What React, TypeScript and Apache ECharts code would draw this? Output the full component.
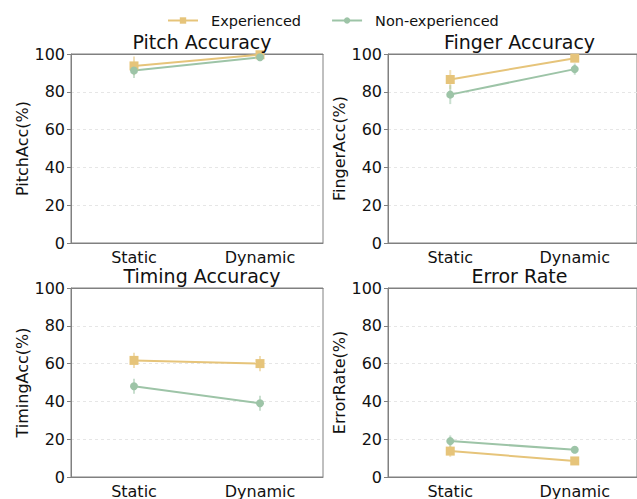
import React, { useEffect, useRef } from "react";
import * as echarts from "echarts";

const categories = ["Static", "Dynamic"];
const panelTitles = ["Pitch Accuracy", "Finger Accuracy", "Timing Accuracy", "Error Rate"];
const yNames = ["PitchAcc(%)", "FingerAcc(%)", "TimingAcc(%)", "ErrorRate(%)"];

const pitchExp = [93.7, 99.6];
const pitchExpErr = [5, 1];
const pitchNon = [91.3, 98.3];
const pitchNonErr = [4, 1];
const fingerExp = [86.5, 97.8];
const fingerExpErr = [5, 1];
const fingerNon = [78.5, 92.0];
const fingerNonErr = [5, 3];
const timingExp = [61.7, 60.0];
const timingExpErr = [4, 4];
const timingNon = [48.0, 39.0];
const timingNonErr = [4, 4];
const errorExp = [13.7, 8.5];
const errorExpErr = [3, 1];
const errorNon = [19.0, 14.4];
const errorNonErr = [3, 1];

const expValues = [pitchExp, fingerExp, timingExp, errorExp];
const expErrs = [pitchExpErr, fingerExpErr, timingExpErr, errorExpErr];
const nonValues = [pitchNon, fingerNon, timingNon, errorNon];
const nonErrs = [pitchNonErr, fingerNonErr, timingNonErr, errorNonErr];

const EXP = "#E6C47A";
const NON = "#9DC4A7";
const FONT = "DejaVu Sans";
const SPINE = "#808080";

const grids = [
  { left: 71, top: 54, width: 252, height: 189 },
  { left: 388, top: 54, width: 253, height: 189 },
  { left: 71, top: 288, width: 252, height: 191 },
  { left: 388, top: 288, width: 253, height: 191 },
];

export default function App() {
  const ref = useRef<HTMLDivElement>(null);
  useEffect(() => {
    document.body.style.margin = "0";
    const chart = echarts.init(ref.current!, null, { renderer: "svg" });
    const errSeries = (vals: number[], errs: number[], color: string, i: number, name: string) => ({
      type: "custom",
      name,
      xAxisIndex: i,
      yAxisIndex: i,
      silent: true,
      z: 1,
      data: vals.map((v, k) => [k, v - errs[k], v + errs[k]]),
      renderItem: (params: any, api: any) => {
        const p1 = api.coord([api.value(0), api.value(1)]);
        const p2 = api.coord([api.value(0), api.value(2)]);
        return {
          type: "line",
          shape: { x1: p1[0], y1: p1[1], x2: p2[0], y2: p2[1] },
          style: { stroke: color, lineWidth: 2, opacity: 0.55 },
        };
      },
    });
    const series: any[] = [];
    for (let i = 0; i < 4; i++) {
      series.push({
        type: "line",
        name: "Experienced",
        xAxisIndex: i,
        yAxisIndex: i,
        data: expValues[i],
        symbol: "rect",
        symbolSize: 9,
        z: 3,
        lineStyle: { color: EXP, width: 2 },
        itemStyle: { color: EXP },
      });
      series.push({
        type: "line",
        name: "Non-experienced",
        xAxisIndex: i,
        yAxisIndex: i,
        data: nonValues[i],
        symbol: "circle",
        symbolSize: 8,
        z: 3,
        lineStyle: { color: NON, width: 2 },
        itemStyle: { color: NON },
      });
      series.push(errSeries(expValues[i], expErrs[i], EXP, i, "expErr"));
      series.push(errSeries(nonValues[i], nonErrs[i], NON, i, "nonErr"));
    }
    const bottomAxes = grids.map((_, i) => ({
      type: "category",
      gridIndex: i,
      position: "bottom",
      data: categories,
      boundaryGap: true,
      axisLine: { lineStyle: { color: SPINE } },
      axisTick: { alignWithLabel: true, length: 4, lineStyle: { color: SPINE } },
      axisLabel: { fontFamily: FONT, fontSize: 16, color: "#111", margin: 6 },
      splitLine: { show: false },
    }));
    const topAxes = grids.map((_, i) => ({
      type: "category",
      gridIndex: i,
      position: "top",
      data: categories,
      boundaryGap: true,
      axisLine: { show: true, lineStyle: { color: SPINE } },
      axisTick: { show: false },
      axisLabel: { show: false },
      splitLine: { show: false },
    }));
    chart.setOption({
      animation: false,
      textStyle: { fontFamily: FONT },
      title: grids.map((g, i) => ({
        text: panelTitles[i],
        left: g.left + g.width / 2,
        textAlign: "center",
        top: g.top - 27,
        textStyle: { fontFamily: FONT, fontSize: 19, fontWeight: "normal", color: "#111" },
      })),
      legend: {
        top: 8,
        left: 162,
        itemWidth: 30,
        itemHeight: 8,
        itemGap: 30,
        data: ["Experienced", "Non-experienced"],
        textStyle: { fontFamily: FONT, fontSize: 14.5, color: "#111", padding: [0, 0, 0, 8] },
      },
      grid: grids.map((g) => ({
        ...g,
        show: true,
        borderColor: SPINE,
        borderWidth: 1,
        backgroundColor: "transparent",
      })),
      xAxis: [...bottomAxes, ...topAxes],
      yAxis: grids.map((_, i) => ({
        type: "value",
        gridIndex: i,
        min: 0,
        max: 100,
        interval: 20,
        name: yNames[i],
        nameLocation: "middle",
        nameGap: 38,
        nameTextStyle: { fontFamily: FONT, fontSize: 16, color: "#111" },
        axisLine: { show: true, lineStyle: { color: SPINE } },
        axisTick: { show: true, length: 4, lineStyle: { color: SPINE } },
        axisLabel: { fontFamily: FONT, fontSize: 16, color: "#111", margin: 6 },
        splitLine: { show: true, lineStyle: { color: "#e6e6e6", type: [3, 3], width: 1 } },
      })),
      series,
    });
    return () => chart.dispose();
  }, []);
  return <div ref={ref} style={{ width: 637, height: 499 }} />;
}
